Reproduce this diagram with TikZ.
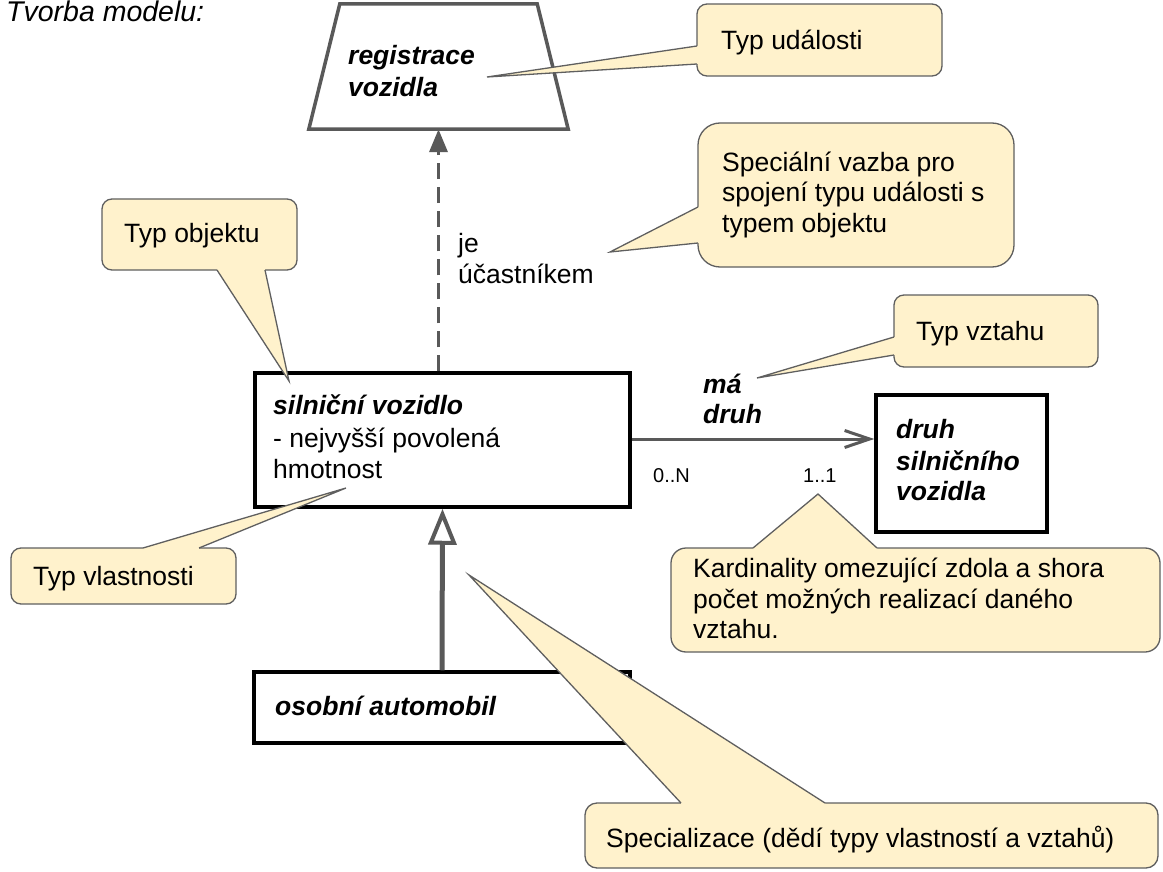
\documentclass[tikz,border=0pt]{standalone}
\usepackage{fontspec}
\setmainfont{Liberation Sans}
\usetikzlibrary{arrows.meta,calc}
\definecolor{cfill}{HTML}{FFF2CC}
\definecolor{cline}{HTML}{5F5F5F}
\definecolor{gline}{HTML}{595959}
\begin{document}
\begin{tikzpicture}[x=1pt,y=-1pt,
  txt/.style={anchor=base west, inner sep=0pt, font=\fontsize{26.5}{32}\selectfont},
  bi/.style={anchor=base west, inner sep=0pt, font=\fontsize{26.5}{32}\selectfont\bfseries\itshape},
  small/.style={anchor=base west, inner sep=0pt, font=\fontsize{20}{24}\selectfont},
  entity/.style={draw=black, line width=3.5pt, fill=white, inner sep=0pt},
  note/.style={draw=cline, line width=1.3pt, fill=cfill, inner sep=0pt, rounded corners=10pt},
  tail/.style={draw=cline, line width=1.3pt, line join=miter},
]
\useasboundingbox (0,0) rectangle (1163,872);

% title
\node[anchor=base west, inner sep=0pt, font=\fontsize{28.5}{32}\selectfont\itshape] (title) at (6,22) {Tvorba modelu:};

% event type (trapezoid)
\node[minimum width=259pt, minimum height=125pt, inner sep=0pt] (tr) at (438.5,66.5) {};
\draw[gline, line width=3.5pt, fill=white, line join=miter]
  (tr.south west) -- (tr.south east) -- ($(tr.north east)+(-31,0)$) -- ($(tr.north west)+(31,0)$) -- cycle;
\node[bi] (tr1) at (348,65) {registrace};
\node[bi] (tr2) at (348,97) {vozidla};

% object types
\node[entity, minimum width=375pt, minimum height=134pt] (sv) at (442.5,440) {};
\node[bi] (sv1) at (273,414) {silniční vozidlo};
\node[txt] (sv2) at (273,447) {- nejvyšší povolená};
\node[txt] (sv3) at (273,478) {hmotnost};

\node[entity, minimum width=171pt, minimum height=137pt] (dr) at (961.5,463.5) {};
\node[bi] (dr1) at (896,438) {druh};
\node[bi] (dr2) at (896,470) {silničního};
\node[bi] (dr3) at (896,500) {vozidla};

\node[entity, minimum width=376pt, minimum height=71pt] (oa) at (442,707.5) {};
\node[bi] (oa1) at (275,715) {osobní automobil};

% connectors
\draw[gline, line width=3.5pt, dash pattern=on 16pt off 8pt,
  -{Triangle[length=23pt,width=18pt]}] (sv.north -| tr.south) -- (tr.south);
\node[txt] (je1) at (458,252) {je};
\node[txt] (je2) at (458,283) {účastníkem};

\draw[gline, line width=3pt, -{Straight Barb[length=25pt,width=17pt]}] (sv.east |- 0,439) -- (dr.west |- 0,439);
\node[bi] (md1) at (703,393) {má};
\node[bi] (md2) at (703,423) {druh};
\node[small] (c1) at (653,482) {0..N};
\node[small] (c2) at (803,482) {1..1};

\draw[gline, line width=5pt, -{Triangle[open, length=36pt, width=28pt, line width=4pt, fill=white]}] (oa.north) -- (sv.south);

% callouts
% Typ udalosti
\node[note, minimum width=245pt, minimum height=72pt] (n1) at (819.5,40) {};
\fill[cfill] (700,46) -- (697,46) -- (487,77) -- (697,64) -- (700,64) -- cycle;
\draw[tail] (697,46) -- (487,77) -- (697,64);
\node[txt] (n1t) at (721,50) {Typ události};

% Specialni vazba
\node[note, rounded corners=22pt, minimum width=316pt, minimum height=144pt] (n2) at (856,195) {};
\fill[cfill] (701,207) -- (698,207) -- (610,252) -- (698,243) -- (701,243) -- cycle;
\draw[tail] (698,207) -- (610,252) -- (698,243);
\node[txt] (n2a) at (722,172) {Speciální vazba pro};
\node[txt] (n2b) at (722,202) {spojení typu události s};
\node[txt] (n2c) at (722,233) {typem objektu};

% Typ objektu
\node[note, minimum width=195pt, minimum height=71pt] (n3) at (199.5,234.5) {};
\fill[cfill] (217,267) -- (217,270) -- (289,381) -- (265,270) -- (265,267) -- cycle;
\draw[tail] (217,270) -- (289,381) -- (265,270);
\node[txt] (n3t) at (124,243) {Typ objektu};

% Typ vztahu
\node[note, minimum width=204pt, minimum height=72pt] (n4) at (996,331) {};
\fill[cfill] (897,337) -- (894,337) -- (757,378) -- (894,355) -- (897,355) -- cycle;
\draw[tail] (894,337) -- (757,378) -- (894,355);
\node[txt] (n4t) at (916,340) {Typ vztahu};

% Kardinality
\node[note, rounded corners=15pt, minimum width=489pt, minimum height=104pt] (n5) at (915.5,600) {};
\fill[cfill] (753,551) -- (753,548) -- (818,494) -- (877,548) -- (877,551) -- cycle;
\draw[tail] (753,548) -- (818,494) -- (877,548);
\node[txt] (n5a) at (693,577) {Kardinality omezující zdola a shora};
\node[txt] (n5b) at (693,608) {počet možných realizací daného};
\node[txt] (n5c) at (693,638) {vztahu.};

% Typ vlastnosti
\node[note, minimum width=225pt, minimum height=56pt] (n6) at (123.5,576) {};
\fill[cfill] (143,551) -- (143,548) -- (346,488) -- (199,548) -- (199,551) -- cycle;
\draw[tail] (143,548) -- (346,488) -- (199,548);
\node[txt] (n6t) at (33,585) {Typ vlastnosti};

% Specializace
\node[note, rounded corners=12pt, minimum width=573pt, minimum height=65pt] (n7) at (871.5,835.5) {};
\fill[cfill] (681,806) -- (681,803) -- (469,575) -- (825,803) -- (825,806) -- cycle;
\draw[tail] (681,803) -- (469,575) -- (825,803);
\node[txt] (n7t) at (606,847) {Specializace (dědí typy vlastností a vztahů)};
\end{tikzpicture}
\end{document}
